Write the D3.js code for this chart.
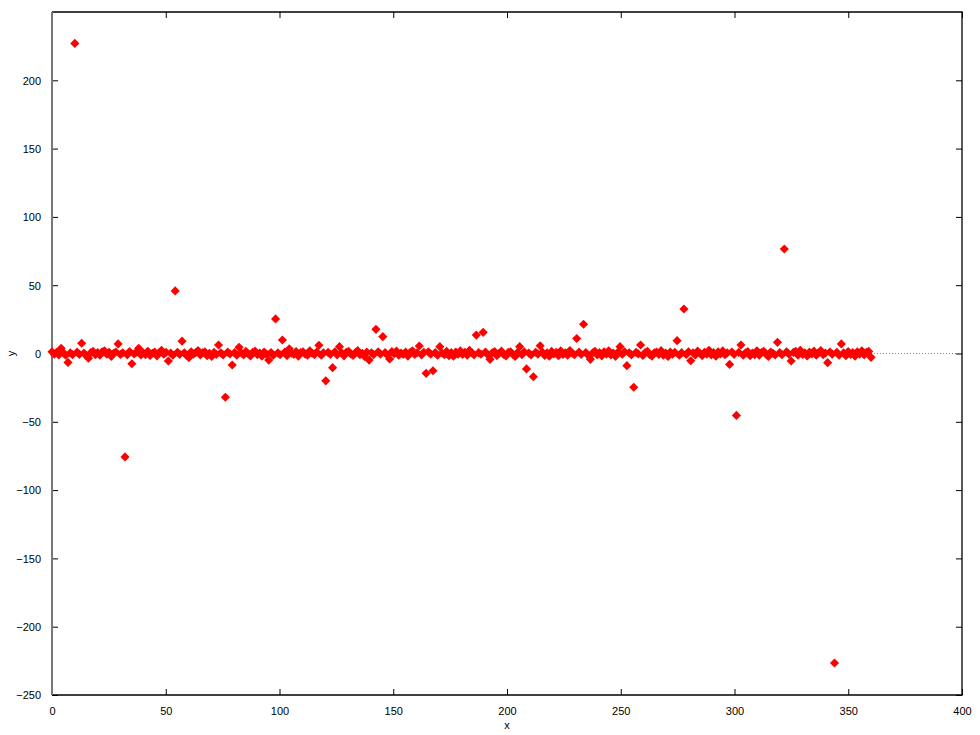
<!DOCTYPE html>
<html>
<head>
<meta charset="utf-8">
<script src="https://cdn.jsdelivr.net/npm/d3@7"></script>
<style>
  html, body { margin: 0; padding: 0; background: #fff; }
  svg { display: block; font-family: "Liberation Sans", Arial, sans-serif; }
</style>
</head>
<body>
<svg id="chart" width="980" height="735"></svg>
<script>
// ---- data ----
const xTicks = [0, 50, 100, 150, 200, 250, 300, 350, 400];
const yTicks = [-250, -200, -150, -100, -50, 0, 50, 100, 150, 200];
const xLabel = "x";
const yLabel = "y";
// samples span x = 0 .. 360 (360 points)
const xFirst = 0, xLast = 360;
// y values of the 360 samples
const yValues = [
  1.3, -0.5, 0.8, -1, 3.8, 0.5, -1.2, -6.5, 0.4, -0.8, 227, 1, -0.6, 7.5, 0.3, -1.5, -3.5, 0.6, 1.5, -0.9,
  0.7, -1.3, 1.2, 2, -0.4, 0.9, -2.2, 0.2, 1.1, 7, -0.7, 0.5, -75.7, -1, 1.4, -7.5, -0.3, 0.9, 3.8, -1.1,
  0.4, -0.9, 1.6, -1.4, 0.2, 1, -1.7, 0.6, 2.4, -0.5, 0.8, -5.5, 0.3, -1.2, 45.8, 0.9, -0.6, 9, 0.5, -1.4,
  -3, 1.2, -0.4, 0.7, 2.2, -1, 0.4, 1.3, -1.6, 0.2, -2.2, 0.8, -0.7, 6.2, 0.5, -1.1, -32, 1, -0.3, -8.4,
  0.6, -1.3, 4.5, 0.4, -1, 1.5, -0.2, -1.8, 0.9, 1.7, -0.8, 0.3, -2, 1.1, -0.5, -4.8, 0.7, -1.2, 25.3, 0.4,
  -0.9, 9.9, 1, -1.5, 3.5, 0.2, -0.7, 1.4, -1.9, 0.6, 1.2, -0.4, -1.3, 2, 0.3, -0.8, 1.1, 6, -1.2, 0.5,
  -20, 0.8, -0.6, -10.4, 1.3, -1, 5, 0.4, -1.7, 0.9, 1.6, -0.3, -1.4, 0.7, 2.1, -0.9, 0.2, -2.1, 1, -4.8,
  0.5, -0.8, 17.7, 1.2, -0.4, 12.3, 0.6, -1.1, -4, 1.4, -0.2, 1.8, -1.3, 0.3, -0.7, 1, -1.9, 0.8, 2, -0.6,
  0.4, 5.5, -1, 0.9, -14.5, 1.2, -0.5, -12.6, 0.7, -1.3, 5, 0.3, -0.8, 1.5, -1.6, 0.6, -2, 1.1, -0.4, 1.9,
  -0.7, 0.9, -1.2, 2.3, 0.4, -1, 13.5, 0.6, -0.5, 15.5, 1.1, -0.9, -4.3, 0.5, 1.4, -1.5, 0.2, 1.7, -0.6, -1.8,
  0.8, 1.3, -0.4, -2.2, 0.6, 5, -0.8, 1.2, -11.3, 0.3, -1.1, -17, 0.9, -0.5, 5.7, 1, -1.4, 0.4, -2, 1.5,
  -0.3, 0.8, -1.6, 1.9, -0.7, 0.5, -1.2, 2.2, 0.2, -0.9, 11, 1, -0.6, 21.4, 0.7, -1.3, -4.3, 0.4, 1.6, -1,
  0.6, -1.7, 1.2, -0.4, 2, -1.1, 0.3, -2.1, 0.9, 5, -0.5, 1.3, -8.9, 0.5, -1, -24.7, 0.8, -0.3, 6.2, -1.4,
  0.7, 1.5, -0.8, -1.9, 0.4, 1.1, -0.6, 2.1, -1.3, 0.3, -2.2, 1, -0.5, 0.9, 9.4, -1.2, 0.6, 32.6, -0.7, 1.2,
  -5.3, 0.5, -1.1, 1.7, 0.2, -1.5, 0.9, -0.4, 2.3, -1, 0.6, -2, 1.3, -0.3, 1.9, -0.9, 0.4, -8, 1.1, -0.6,
  -45.3, 0.8, 6.2, -1.2, 0.5, 1.4, -1.6, 0.3, -0.8, 2, -1.3, 0.7, 1.6, -0.5, -2.2, 1, 0.2, -1.1, 8.2, 0.6,
  -0.9, 76.5, 1.2, -0.4, -5.5, 0.8, 1.5, -1.3, 2.3, -0.6, 0.4, -1.8, 1, -0.3, 1.7, -1.2, 0.5, 2.1, -0.8, 0.3,
  -6.7, 1.1, -0.5, -226.6, 0.9, -1.3, 7, 0.4, -1.6, 1.4, -0.7, 0.6, -1.9, 1.2, -0.4, 2, -1, 0.8, 1.5, -2.8
];
const xStep = (xLast - xFirst) / (yValues.length - 1);
const xValues = yValues.map((_, i) => xFirst + i * xStep);

// ---- layout ----
const svg = d3.select("#chart");
const L = 52, R = 962, T = 12, B = 695;
const xScale = d3.scaleLinear().domain([0, 400]).range([L, R]);
const yScale = d3.scaleLinear().domain([-250, 250]).range([B, T]);
const tickLen = 6;

// zero axis (dotted)
svg.append("line")
  .attr("x1", xScale(0)).attr("x2", xScale(400))
  .attr("y1", yScale(0)).attr("y2", yScale(0))
  .attr("stroke", "#888").attr("stroke-width", 1)
  .attr("stroke-dasharray", "1,2");

// axes with inward ticks
const fontSize = 11;
const gBottom = svg.append("g").attr("transform", `translate(0,${B})`)
  .call(d3.axisBottom(xScale).tickValues(xTicks).tickSizeInner(-tickLen).tickSizeOuter(0).tickPadding(tickLen + 6));
const gTop = svg.append("g").attr("transform", `translate(0,${T})`)
  .call(d3.axisTop(xScale).tickValues(xTicks).tickSizeInner(-tickLen).tickSizeOuter(0).tickFormat(""));
const gLeft = svg.append("g").attr("transform", `translate(${L},0)`)
  .call(d3.axisLeft(yScale).tickValues(yTicks).tickSizeInner(-tickLen).tickSizeOuter(0).tickPadding(tickLen + 5));
const gRight = svg.append("g").attr("transform", `translate(${R},0)`)
  .call(d3.axisRight(yScale).tickValues(yTicks).tickSizeInner(-tickLen).tickSizeOuter(0).tickFormat(""));

[gBottom, gTop, gLeft, gRight].forEach(g => {
  g.select(".domain").remove();
  g.selectAll(".tick line").attr("stroke", "#000").attr("stroke-width", 1);
  g.selectAll(".tick text").attr("font-size", fontSize).attr("fill", "#000")
    .attr("font-family", "'Liberation Sans', Arial, sans-serif");
});
gLeft.selectAll(".tick text").attr("dy", "0.35em");

// border
svg.append("path")
  .attr("d", `M${L},${T}H${R}V${B}H${L}`)
  .attr("fill", "none").attr("stroke", "#000").attr("stroke-width", 1.3);
svg.append("line")
  .attr("x1", L).attr("x2", L).attr("y1", T).attr("y2", B)
  .attr("stroke", "#777").attr("stroke-width", 2);

// axis labels
svg.append("text").attr("x", (L + R) / 2).attr("y", 729)
  .attr("text-anchor", "middle").attr("font-size", fontSize).text(xLabel);
svg.append("text")
  .attr("transform", `translate(15,${yScale(0)}) rotate(-90)`)
  .attr("text-anchor", "middle").attr("font-size", fontSize).text(yLabel);

// points: diamonds
const sym = d3.symbol().type(d3.symbolSquare).size(42);
svg.append("g").selectAll("path")
  .data(xValues.map((xv, i) => [xv, yValues[i]]))
  .join("path")
  .attr("d", sym)
  .attr("transform", d => `translate(${xScale(d[0])},${yScale(d[1])}) rotate(45)`)
  .attr("fill", "#ff0000");
</script>
</body>
</html>
